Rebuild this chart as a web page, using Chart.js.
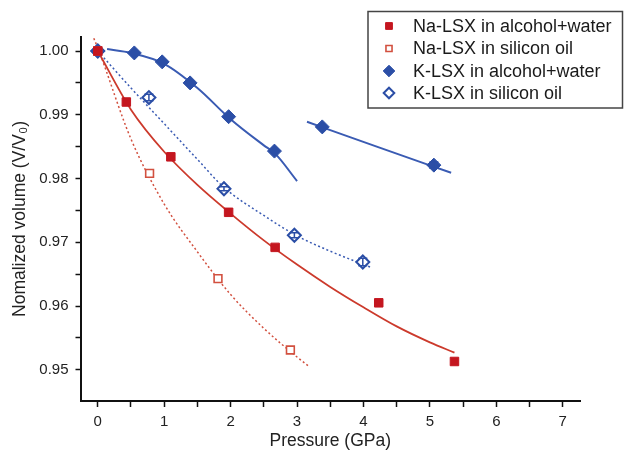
<!DOCTYPE html>
<html lang="en">
<head>
    <meta charset="UTF-8">
    <title>Normalized volume vs pressure</title>
    <script src="https://cdn.jsdelivr.net/npm/chart.js@4.4.0/dist/chart.umd.min.js"></script>
    <style>
        html, body { margin: 0; padding: 0; background: #fff; }
        #wrap { width: 624px; height: 456px; position: relative; }
    </style>
</head>
<body>
    <div id="wrap"><canvas id="chart" width="624" height="456"></canvas></div>
    <script>
        // measured points (pressure in GPa, V/V0)
        var naAlcP = [0, 0.43, 1.10, 1.97, 2.67, 4.23, 5.37];
        var naAlcV = [1.000, 0.9920, 0.9834, 0.9747, 0.9692, 0.9605, 0.9513];
        var naOilP = [0, 0.78, 1.81, 2.90];
        var naOilV = [1.000, 0.9808, 0.9643, 0.9531];
        var kAlcP = [0, 0.55, 0.97, 1.39, 1.97, 2.66, 3.38, 5.06];
        var kAlcV = [1.000, 0.9997, 0.9983, 0.9950, 0.9897, 0.9843, 0.9881, 0.9821];
        var kAlcErr = [0, 0, 0, 0, 0, 0, 0, 0.0005];
        var kOilP = [0, 0.77, 1.90, 2.96, 3.99];
        var kOilV = [1.000, 0.9927, 0.9784, 0.9711, 0.9669];
        var kOilErr = [0, 0.0005, 0.0003, 0.0004, 0.0006];

        // fitted curves
        var naAlcFitP = [0, 0.5, 1.0, 1.5, 2.0, 2.5, 3.0, 3.5, 4.0, 4.5, 5.0, 5.37];
        var naAlcFitV = [1.000, 0.9908, 0.9842, 0.9790, 0.9745, 0.9703, 0.9665, 0.9630, 0.9598, 0.9568, 0.9543, 0.9527];
        var naOilFitP = [-0.06, 0, 0.5, 1.0, 1.5, 2.0, 2.5, 3.0, 3.17];
        var naOilFitV = [1.0020, 1.0005, 0.9862, 0.9760, 0.9685, 0.9618, 0.9565, 0.9520, 0.9506];
        var kAlcFitP = [0.14, 0.5, 1.0, 1.5, 2.0, 2.5, 2.67, 3.0];
        var kAlcFitV = [1.0003, 0.9997, 0.9980, 0.9942, 0.9893, 0.9852, 0.9839, 0.9796];
        var kAlcFit2P = [3.15, 4.2, 5.32];
        var kAlcFit2V = [0.9889, 0.9850, 0.9809];
        var kOilFitP = [0, 0.5, 1.0, 1.5, 1.9, 2.5, 3.0, 3.5, 4.13];
        var kOilFitV = [1.000, 0.9942, 0.9886, 0.9830, 0.9786, 0.9742, 0.9710, 0.9686, 0.9660];

        var xTicks = [0, 1, 2, 3, 4, 5, 6, 7];
        var yTicks = [0.95, 0.96, 0.97, 0.98, 0.99, 1.00];

        var RED = '#c4161f';
        var RED_LINE = '#cc3a2c';
        var RED_OPEN = '#d2503f';
        var BLUE = '#2b4ea6';
        var BLUE_LINE = '#3a5bb3';
        var FONT = '"Liberation Sans", Arial, sans-serif';

        function pts(px, py) {
            return px.map(function (p, i) { return { x: p, y: py[i] }; });
        }

        var errorBars = {
            id: 'errorBars',
            afterDatasetsDraw: function (chart) {
                var ctx = chart.ctx, ys = chart.scales.y, xs = chart.scales.x;
                chart.data.datasets.forEach(function (ds) {
                    if (!ds.errs) return;
                    ctx.save();
                    ctx.strokeStyle = ds.borderColor;
                    ctx.lineWidth = 1.5;
                    ds.data.forEach(function (d, i) {
                        var e = ds.errs[i];
                        if (!e) return;
                        var x = xs.getPixelForValue(d.x);
                        var y1 = ys.getPixelForValue(d.y + e);
                        var y2 = ys.getPixelForValue(d.y - e);
                        ctx.beginPath();
                        ctx.moveTo(x, y1); ctx.lineTo(x, y2);
                        ctx.moveTo(x - 4.5, y1); ctx.lineTo(x + 4.5, y1);
                        ctx.moveTo(x - 4.5, y2); ctx.lineTo(x + 4.5, y2);
                        ctx.stroke();
                    });
                    ctx.restore();
                });
            }
        };

        var legendBox = {
            id: 'legendBox',
            afterDraw: function (chart) {
                var ctx = chart.ctx;
                ctx.save();
                ctx.strokeStyle = '#444';
                ctx.lineWidth = 1.5;
                ctx.strokeRect(368, 11.5, 254.5, 96.5);
                var rows = [26, 48.5, 71, 93];
                ctx.font = '18px ' + FONT;
                ctx.textBaseline = 'middle';
                ctx.fillStyle = '#1a1a1a';
                for (var i = 0; i < 4; i++) {
                    var ds = chart.data.datasets[i];
                    ctx.save();
                    ctx.fillStyle = ds.pointBackgroundColor;
                    ctx.strokeStyle = ds.borderColor;
                    ctx.lineWidth = ds.pointBorderWidth;
                    Chart.helpers.drawPoint(ctx, {
                        pointStyle: ds.pointStyle,
                        radius: ds.pointRadius - 1.2,
                        borderWidth: ds.pointBorderWidth
                    }, 389, rows[i]);
                    ctx.restore();
                    ctx.fillText(ds.label, 413, rows[i] + 1);
                }
                ctx.restore();
            }
        };

        function fitLine(label, px, py, color, dashed, width) {
            return {
                label: label,
                data: pts(px, py),
                showLine: true,
                borderColor: color,
                borderWidth: width,
                borderDash: dashed ? [2, 2.5] : [],
                pointRadius: 0,
                cubicInterpolationMode: 'monotone',
                fill: false
            };
        }

        new Chart(document.getElementById('chart'), {
            type: 'scatter',
            data: {
                datasets: [
                    { label: 'Na-LSX in alcohol+water', data: pts(naAlcP, naAlcV), pointStyle: 'rect',
                      pointRadius: 6, pointBackgroundColor: RED, borderColor: RED, pointBorderWidth: 1 },
                    { label: 'Na-LSX in silicon oil', data: pts(naOilP, naOilV), pointStyle: 'rect',
                      pointRadius: 5.5, pointBackgroundColor: '#fff', borderColor: RED_OPEN, pointBorderWidth: 1.6 },
                    { label: 'K-LSX in alcohol+water', data: pts(kAlcP, kAlcV), pointStyle: 'rectRot', errs: kAlcErr,
                      pointRadius: 7, pointBackgroundColor: BLUE, borderColor: BLUE, pointBorderWidth: 1 },
                    { label: 'K-LSX in silicon oil', data: pts(kOilP, kOilV), pointStyle: 'rectRot', errs: kOilErr,
                      pointRadius: 6.5, pointBackgroundColor: '#fff', borderColor: BLUE, pointBorderWidth: 2 },
                    fitLine('fit Na alc', naAlcFitP, naAlcFitV, RED_LINE, false, 1.8),
                    fitLine('fit Na oil', naOilFitP, naOilFitV, RED_OPEN, true, 1.5),
                    fitLine('fit K alc', kAlcFitP, kAlcFitV, BLUE_LINE, false, 2),
                    fitLine('fit K alc 2', kAlcFit2P, kAlcFit2V, BLUE_LINE, false, 2),
                    fitLine('fit K oil', kOilFitP, kOilFitV, BLUE_LINE, true, 1.5)
                ]
            },
            options: {
                responsive: false,
                animation: false,
                layout: { padding: { left: 0, top: 37, right: 44, bottom: 0 } },
                plugins: {
                    legend: { display: false },
                    tooltip: { enabled: false }
                },
                scales: {
                    x: {
                        type: 'linear',
                        min: -0.26, max: 7.26,
                        afterFit: function (s) { s.height = 55; },
                        border: { display: true, color: '#111', width: 2 },
                        grid: { drawOnChartArea: false, drawTicks: true, tickLength: 6, tickColor: '#111', tickWidth: 1.5 },
                        ticks: {
                            stepSize: 0.5, includeBounds: false, autoSkip: false, maxRotation: 0,
                            padding: 6, color: '#222', font: { family: FONT, size: 15 },
                            callback: function (v) { return xTicks.indexOf(v) >= 0 ? String(v) : ''; }
                        },
                        title: { display: true, text: 'Pressure (GPa)', color: '#222',
                                 font: { family: FONT, size: 17.5 }, padding: { top: 0, bottom: 4 } }
                    },
                    y: {
                        type: 'linear',
                        min: 0.9451, max: 1.0022,
                        afterFit: function (s) { s.width = 80.5; },
                        border: { display: true, color: '#111', width: 2 },
                        grid: { drawOnChartArea: false, drawTicks: true, tickLength: 5, tickColor: '#111', tickWidth: 1.5 },
                        ticks: {
                            stepSize: 0.005, includeBounds: false, autoSkip: false,
                            padding: 7, color: '#222', font: { family: FONT, size: 15 },
                            callback: function (v) {
                                for (var i = 0; i < yTicks.length; i++) {
                                    if (Math.abs(yTicks[i] - v) < 1e-7) return yTicks[i].toFixed(2);
                                }
                                return '';
                            }
                        },
                        title: { display: true, text: 'Nomalized volume (V/V\u2080)', color: '#222',
                                 font: { family: FONT, size: 17.5 }, padding: { top: 10, bottom: 0 } }
                    }
                }
            },
            plugins: [errorBars, legendBox]
        });
    </script>
</body>
</html>
